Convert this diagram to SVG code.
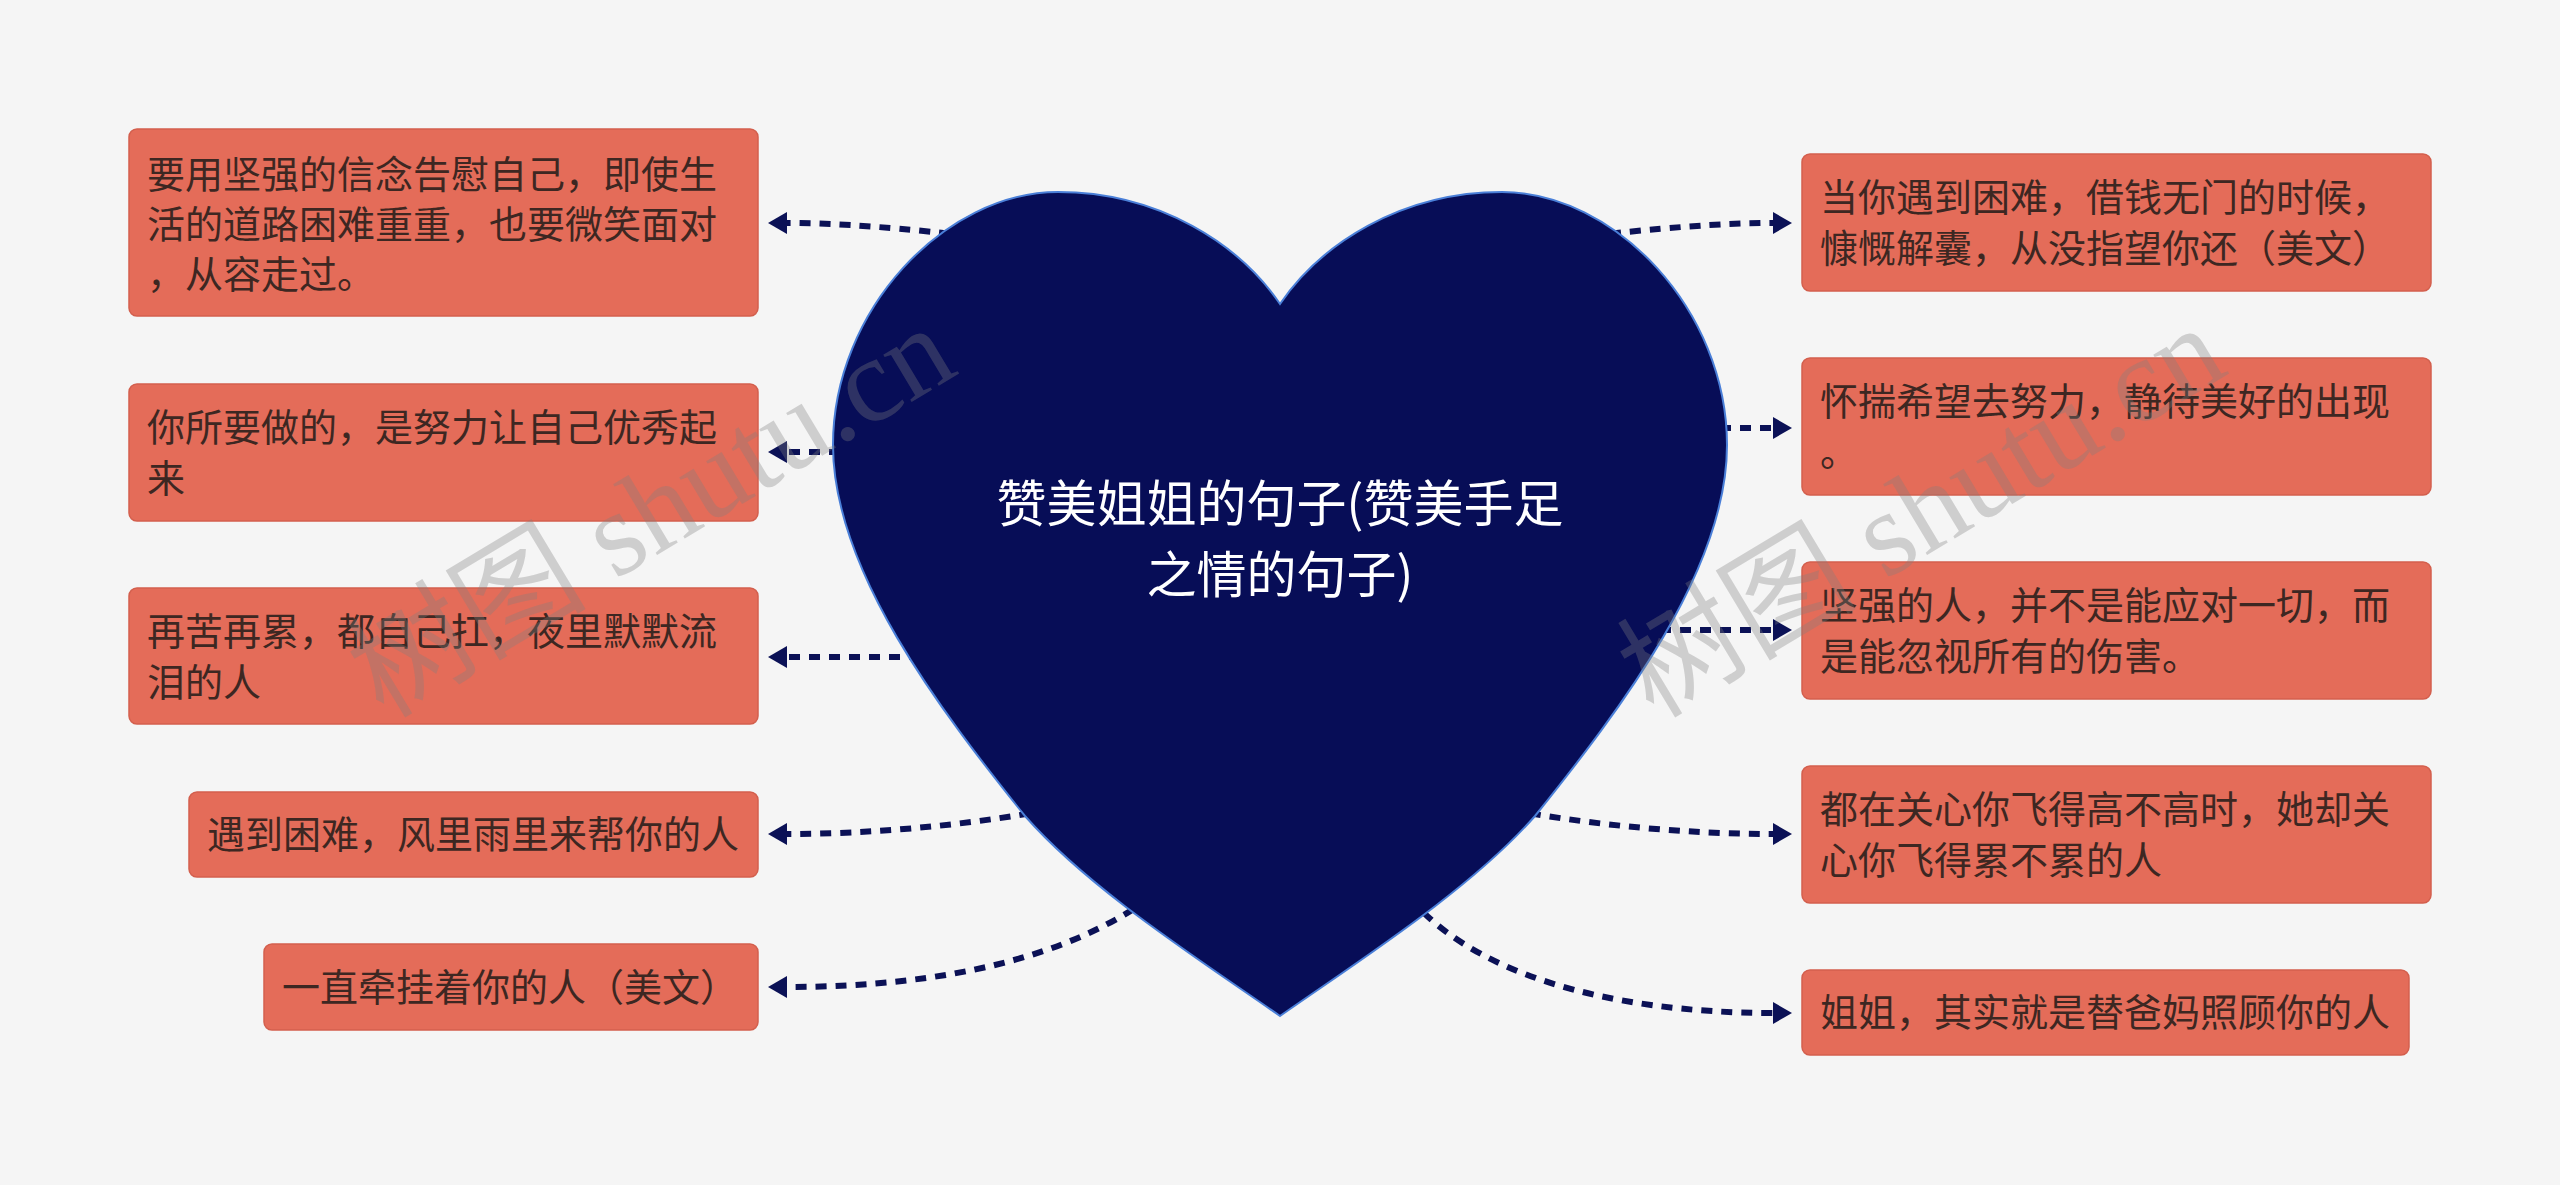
<svg xmlns="http://www.w3.org/2000/svg" width="2560" height="1185" viewBox="0 0 2560 1185">
<defs>
<style>
.box{fill:#E46C59;stroke:#D35F4D;stroke-width:1.5}
.t{font-family:"Noto Sans CJK SC","Noto Sans CJK JP",sans-serif;font-size:38px;fill:#3d2722}
.title{font-family:"Noto Sans CJK SC","Noto Sans CJK JP",sans-serif;font-size:50px;fill:#ffffff;text-anchor:middle}
.con{fill:none;stroke:#0b1156;stroke-width:6;stroke-dasharray:11 9}
.wm{font-family:"Liberation Serif","Noto Sans CJK SC",serif;font-size:120px;fill:#808080;fill-opacity:0.33}
</style>
<marker id="arr" markerUnits="userSpaceOnUse" markerWidth="20" markerHeight="24" viewBox="0 0 20 24" refX="1" refY="12" orient="auto">
<path d="M0,1 L19,12 L0,23 Z" fill="#0b1156"/>
</marker>
</defs>
<rect x="0" y="0" width="2560" height="1185" fill="#f5f5f5"/>
<g id="connectors">
<path class="con" marker-end="url(#arr)" d="M990,238 C900,228 840,223 786,223"/>
<path class="con" marker-end="url(#arr)" d="M880,452 L786,452"/>
<path class="con" marker-end="url(#arr)" d="M940,657 L786,657"/>
<path class="con" marker-end="url(#arr)" d="M1050,810 C960,826 870,834 786,834"/>
<path class="con" marker-end="url(#arr)" d="M1150,898 C1070,955 950,987 786,987"/>
<path class="con" marker-end="url(#arr)" d="M1570,238 C1660,228 1720,223 1774,223"/>
<path class="con" marker-end="url(#arr)" d="M1680,428 L1774,428"/>
<path class="con" marker-end="url(#arr)" d="M1620,630 L1774,630"/>
<path class="con" marker-end="url(#arr)" d="M1510,810 C1600,826 1690,834 1774,834"/>
<path class="con" marker-end="url(#arr)" d="M1410,898 C1470,970 1600,1013 1774,1013"/>
</g>
<g id="node-l1">
<rect class="box" x="129" y="129" width="629" height="187" rx="8"/>
<text class="t" x="147" y="188">要用坚强的信念告慰自己，即使生</text>
<text class="t" x="147" y="238">活的道路困难重重，也要微笑面对</text>
<text class="t" x="147" y="288">，从容走过。</text>
</g>
<g id="node-l2">
<rect class="box" x="129" y="384" width="629" height="137" rx="8"/>
<text class="t" x="147" y="441">你所要做的，是努力让自己优秀起</text>
<text class="t" x="147" y="492">来</text>
</g>
<g id="node-l3">
<rect class="box" x="129" y="588" width="629" height="136" rx="8"/>
<text class="t" x="147" y="645">再苦再累，都自己扛，夜里默默流</text>
<text class="t" x="147" y="696">泪的人</text>
</g>
<g id="node-l4">
<rect class="box" x="189" y="792" width="569" height="85" rx="8"/>
<text class="t" x="207" y="848">遇到困难，风里雨里来帮你的人</text>
</g>
<g id="node-l5">
<rect class="box" x="264" y="944" width="494" height="86" rx="8"/>
<text class="t" x="282" y="1001">一直牵挂着你的人（美文）</text>
</g>
<g id="node-r1">
<rect class="box" x="1802" y="154" width="629" height="137" rx="8"/>
<text class="t" x="1820" y="211">当你遇到困难，借钱无门的时候，</text>
<text class="t" x="1820" y="262">慷慨解囊，从没指望你还（美文）</text>
</g>
<g id="node-r2">
<rect class="box" x="1802" y="358" width="629" height="137" rx="8"/>
<text class="t" x="1820" y="415">怀揣希望去努力，静待美好的出现</text>
<text class="t" x="1820" y="466">。</text>
</g>
<g id="node-r3">
<rect class="box" x="1802" y="562" width="629" height="137" rx="8"/>
<text class="t" x="1820" y="619">坚强的人，并不是能应对一切，而</text>
<text class="t" x="1820" y="670">是能忽视所有的伤害。</text>
</g>
<g id="node-r4">
<rect class="box" x="1802" y="766" width="629" height="137" rx="8"/>
<text class="t" x="1820" y="823">都在关心你飞得高不高时，她却关</text>
<text class="t" x="1820" y="874">心你飞得累不累的人</text>
</g>
<g id="node-r5">
<rect class="box" x="1802" y="970" width="607" height="85" rx="8"/>
<text class="t" x="1820" y="1026">姐姐，其实就是替爸妈照顾你的人</text>
</g>
<g id="node-center">
<path d="M1280,304 C1240,245 1160,192 1058,192 C945,192 833,310 833,445 C833,570 940,710 1025,816 C1090,890 1200,960 1280,1016 C1360,960 1470,890 1535,816 C1620,710 1727,570 1727,445 C1727,310 1615,192 1502,192 C1400,192 1320,245 1280,304 Z" fill="#070d57" stroke="#4a7fd8" stroke-width="2"/>
<text class="title" x="1280" y="522">赞美姐姐的句子(赞美手足</text>
<text class="title" x="1280" y="593">之情的句子)</text>
</g>
<g id="watermark">
<text class="wm" transform="translate(672,546) rotate(-31)" text-anchor="middle">树图 shutu.cn</text>
<text class="wm" transform="translate(1942,546) rotate(-31)" text-anchor="middle">树图 shutu.cn</text>
</g>
</svg>
